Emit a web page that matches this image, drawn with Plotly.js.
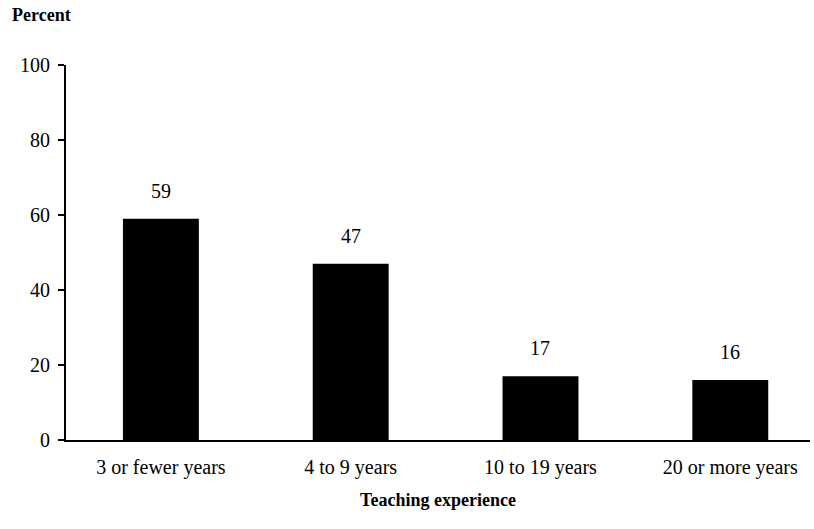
<!DOCTYPE html>
<html>
<head>
<meta charset="utf-8">
<script src="https://cdn.plot.ly/plotly-3.0.1.min.js"></script>
<style>html,body{margin:0;padding:0;background:#fff;}#chart{width:814px;height:529px;}</style>
</head>
<body>
<div id="chart"></div>
<script>
const categories = ["3 or fewer years", "4 to 9 years", "10 to 19 years", "20 or more years"];
const percents = [59, 47, 17, 16];
const yTickVals = [0, 20, 40, 60, 80, 100];
const yTitle = "Percent";
const xTitle = "Teaching experience";

const FONT = "'Liberation Serif', 'Times New Roman', serif";

const trace = {
  type: "bar",
  x: categories,
  y: percents,
  marker: {color: "#000000", line: {width: 0}},
  hoverinfo: "x+y"
};

const annotations = categories.map((c, i) => ({
  x: c, y: percents[i], xref: "x", yref: "y",
  text: String(percents[i]), showarrow: false,
  yanchor: "bottom", yshift: 15,
  font: {family: FONT, size: 20, color: "#000"}
}));

const layout = {
  width: 814, height: 529,
  margin: {l: 66, r: 4, t: 65, b: 89},
  paper_bgcolor: "#fff", plot_bgcolor: "#fff",
  showlegend: false,
  bargap: 0.6,
  font: {family: FONT, size: 20, color: "#000"},
  title: {
    text: "<b>" + yTitle + "</b>",
    xref: "container", yref: "container",
    x: 12/814, xanchor: "left",
    y: 1 - 15/529, yanchor: "middle",
    font: {family: FONT, size: 18, color: "#000"}
  },
  xaxis: {
    type: "category",
    range: [-0.5, 3.42],
    showline: true, linecolor: "#000", linewidth: 2,
    ticks: "", showgrid: false, zeroline: false,
    tickfont: {family: FONT, size: 20, color: "#000"},
    ticklabelstandoff: 8,
    title: {text: "<b>" + xTitle + "</b>", standoff: 15, font: {family: FONT, size: 18, color: "#000"}},
    fixedrange: true
  },
  yaxis: {
    range: [0, 100],
    tickvals: yTickVals,
    ticktext: yTickVals.map(String),
    showline: true, linecolor: "#000", linewidth: 2,
    ticks: "outside", ticklen: 6, tickwidth: 1.5, tickcolor: "#000",
    showgrid: false, zeroline: false,
    tickfont: {family: FONT, size: 20, color: "#000"},
    ticklabelstandoff: 4,
    fixedrange: true
  },
  annotations: annotations
};

Plotly.newPlot("chart", [trace], layout, {displayModeBar: false, staticPlot: true});
</script>
</body>
</html>
